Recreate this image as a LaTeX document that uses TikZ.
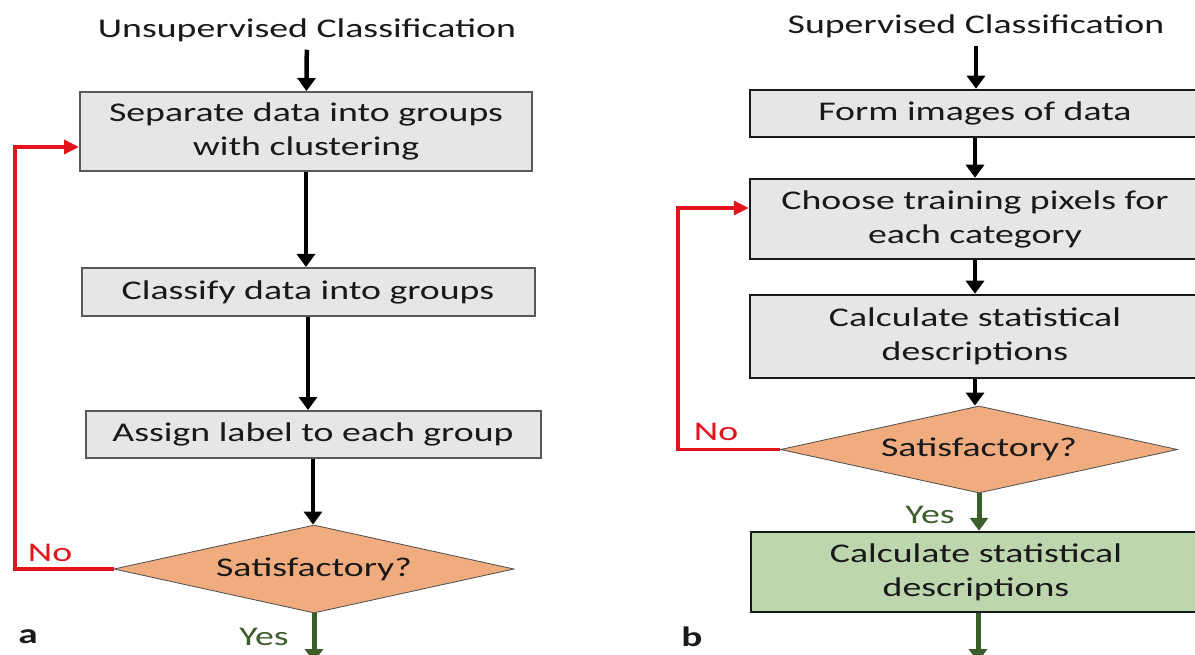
\documentclass[tikz,border=0pt]{standalone}
\usepackage{fontspec}
\setmainfont{Carlito}[FakeStretch=1.4]
\usetikzlibrary{arrows.meta, shapes.geometric}

\definecolor{boxgray}{HTML}{E6E6E6}
\definecolor{diafill}{HTML}{F0AC7E}
\definecolor{okfill}{HTML}{BDD6AE}
\definecolor{okgreen}{HTML}{3B5E2B}
\definecolor{nored}{HTML}{E3141B}

\begin{document}
\begin{tikzpicture}[x=1pt, y=-1pt,
    every node/.style={font=\fontsize{27}{34}\selectfont, text=black!90, inner sep=0pt, align=center},
    box/.style={draw=black!65, line width=2pt, fill=boxgray},
    rbox/.style={draw=black!90, line width=2.5pt, fill=boxgray},
    decision/.style={diamond, aspect=4.5, draw=black!70, line width=0.8pt, fill=diafill},
    flow/.style={line width=4.5pt, -{Triangle[width=18pt,length=13pt]}},
    loop/.style={nored, line width=3.5pt, -{Triangle[width=14pt,length=15pt]}},
    okflow/.style={okgreen, line width=5pt, -{Triangle[width=18pt,length=13pt]}},
    panel/.style={font=\fontsize{28}{34}\selectfont\bfseries}]

        % picture frame
        \path[use as bounding box] (0,0) rectangle (1195,655);
        \clip (0,0) rectangle (1195,655);

        % ==========================================
        % a: Unsupervised Classification
        % ==========================================

        \node (lt) [inner ysep=8pt] at (307,30) {Unsupervised Classification};
        \node (l1) [box, minimum width=452pt, minimum height=79pt] at (306,131.5) {Separate data into groups\\with clustering};
        \node (l2) [box, minimum width=453pt, minimum height=48pt] at (308,292) {Classify data into groups};
        \node (l3) [box, minimum width=455pt, minimum height=47pt] at (313,434.5) {Assign label to each group};
        \node (ld) [decision, minimum width=400pt, minimum height=88pt] at (314,569) {Satisfactory?};
        \coordinate (lback) at (15,147);
        \coordinate (lout) at (314,662);

        % labels
        \node (lno) [text=nored] at (50,553) {No};
        \node (lyes) [text=okgreen] at (264,637) {Yes};
        \node (la) [panel] at (28,637) {a};

        % arrows
        \draw[flow] (lt) -- (l1);
        \draw[flow] (l1.south) -- (l1.south |- l2.north);
        \draw[flow] (l2.south) -- (l2.south |- l3.north);
        \draw[flow] (l3.south) -- (l3.south |- ld.north);
        \draw[loop] (ld.west) -| (lback) -- (lback -| l1.west);
        \draw[okflow] (ld.south) -- (lout);


        % ==========================================
        % b: Supervised Classification
        % ==========================================

        \node (rt) [inner ysep=8pt] at (976,26) {Supervised Classification};
        \node (r1) [rbox, minimum width=450pt, minimum height=47pt] at (975,113.5) {Form images of data};
        \node (r2) [rbox, minimum width=450pt, minimum height=80pt] at (975,219) {Choose training pixels for\\each category};
        \node (r3) [rbox, minimum width=450pt, minimum height=83pt] at (975,336.5) {Calculate statistical\\descriptions};
        \node (rd) [decision, minimum width=397pt, minimum height=87pt] at (979,449.5) {Satisfactory?};
        \node (r4) [rbox, fill=okfill, minimum width=450pt, minimum height=80pt] at (976,572) {Calculate statistical\\descriptions};
        \coordinate (rback) at (678,208);
        \coordinate (rout) at (978,662);

        % labels
        \node (rno) [text=nored] at (716,432) {No};
        \node (ryes) [text=okgreen] at (930,515) {Yes};
        \node (rb) [panel] at (692,637) {b};

        % arrows
        \draw[flow] (rt.south) -- (rt.south |- r1.north);
        \draw[flow] (r1.south) -- (r1.south |- r2.north);
        \draw[flow] (r2.south) -- (r2.south |- r3.north);
        \draw[flow] (r3.south) -- (r3.south |- rd.north);
        \draw[loop] (rd.west) -| (rback) -- (rback -| r2.west);
        \draw[okflow] (rd.south) -- (rd.south |- r4.north);
        \draw[okflow] (r4.south -| rout) -- (rout);

\end{tikzpicture}
\end{document}
